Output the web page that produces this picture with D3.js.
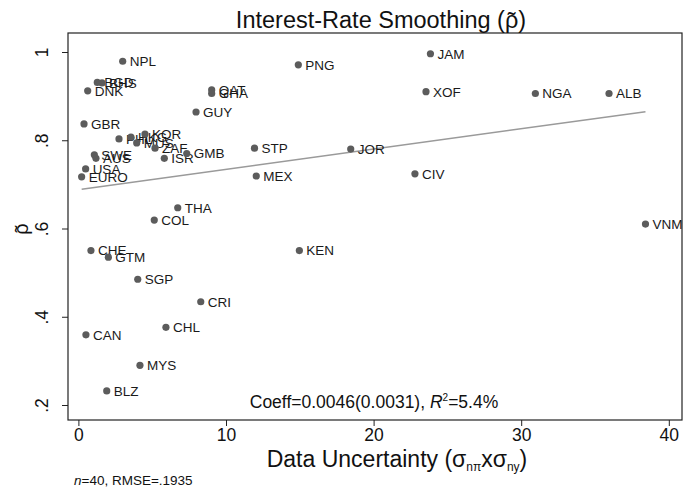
<!DOCTYPE html>
<html>
<head>
<meta charset="utf-8">
<script src="https://cdn.jsdelivr.net/npm/d3@7"></script>
<style>
  body { margin: 0; background: #fff; }
  svg { font-family: "Liberation Sans", Arial, sans-serif; }
</style>
</head>
<body>
<div id="chart"></div>
<script>
// country codes, data uncertainty (x) and smoothing rho (y)
var countries = ["NPL","BGD","BHS","DNK","QAT","GHA","GUY","GBR","PHL","HKG","KOR","MUS","ZAF","ISR","GMB",
                 "SWE","AUS","USA","EURO","PNG","JAM","XOF","NGA","ALB","STP","JOR","MEX","CIV","THA","COL",
                 "VNM","CHE","GTM","KEN","SGP","CRI","CHL","CAN","MYS","BLZ"];
var uncertainty = [3.00,1.28,1.60,0.63,9.03,9.03,7.97,0.38,2.75,3.56,4.51,3.95,5.19,5.82,7.34,
                   1.08,1.19,0.49,0.22,14.9,23.85,23.55,30.96,35.95,11.93,18.45,12.05,22.8,6.73,5.14,
                   38.42,0.85,2.03,14.97,4.02,8.29,5.93,0.51,4.17,1.92];
var rho = [0.979,0.931,0.930,0.912,0.914,0.906,0.864,0.837,0.803,0.807,0.814,0.794,0.782,0.759,0.770,
           0.767,0.759,0.735,0.717,0.971,0.996,0.910,0.906,0.906,0.782,0.780,0.719,0.724,0.647,0.619,
           0.610,0.550,0.535,0.550,0.485,0.434,0.376,0.359,0.290,0.232];

var xTicks = [0, 10, 20, 30, 40];
var yTicks = [0.2, 0.4, 0.6, 0.8, 1];
var fitIntercept = 0.688, fitSlope = 0.0046;

var W = 683, H = 493;
var plot = {left: 68, right: 682, top: 33, bottom: 420};

var svg = d3.select("#chart").append("svg")
    .attr("width", W).attr("height", H);

var x = d3.scaleLinear().domain([0, 40]).range([78.4, 78.4 + 40 * 14.76]);
var y = d3.scaleLinear().domain([0.2, 1]).range([405, 52]);

// puts a small tilde over one character of a text element
function tildeOver(parent, textEl, idx, size) {
  var n = textEl.node();
  var s = n.getStartPositionOfChar(idx), e = n.getEndPositionOfChar(idx);
  parent.append("text")
    .attr("x", (s.x + e.x) / 2).attr("y", s.y + size * 0.05)
    .attr("text-anchor", "middle")
    .attr("font-size", size).attr("fill", "#111")
    .text("\u02DC");
}

// plot frame
svg.append("rect")
    .attr("x", plot.left).attr("y", plot.top)
    .attr("width", plot.right - plot.left).attr("height", plot.bottom - plot.top)
    .attr("fill", "none").attr("stroke", "#222").attr("stroke-width", 1.2);

// title
var titleStr = "Interest-Rate Smoothing (\u03C1)";
var title = svg.append("text")
    .attr("x", 381).attr("y", 28)
    .attr("text-anchor", "middle")
    .attr("font-size", 23.5).attr("fill", "#111")
    .text(titleStr);
tildeOver(svg, title, titleStr.indexOf("\u03C1"), 23.5);

// x axis
var xAxis = svg.append("g")
    .attr("transform", "translate(0," + plot.bottom + ")")
    .call(d3.axisBottom(x).tickValues(xTicks).tickSize(6).tickPadding(3).tickFormat(d3.format("d")));
xAxis.select(".domain").remove();
xAxis.selectAll("line").attr("stroke", "#222");
xAxis.selectAll("text").attr("font-size", 17.5).attr("font-family", "Liberation Sans, Arial, sans-serif").attr("fill", "#111");

// y axis with rotated labels
var yAxis = svg.append("g")
    .attr("transform", "translate(" + plot.left + ",0)")
    .call(d3.axisLeft(y).tickValues(yTicks).tickSize(6)
      .tickFormat(function(d) { return d === 1 ? "1" : d3.format(".1f")(d).replace(/^0/, ""); }));
yAxis.select(".domain").remove();
yAxis.selectAll("line").attr("stroke", "#222");
yAxis.selectAll("text")
    .attr("font-size", 17.5).attr("font-family", "Liberation Sans, Arial, sans-serif").attr("fill", "#111")
    .attr("x", null).attr("dy", null)
    .attr("text-anchor", "middle")
    .attr("transform", "translate(-20,0) rotate(-90)");

// axis titles
var xt = svg.append("text")
    .attr("x", 397).attr("y", 467)
    .attr("text-anchor", "middle")
    .attr("font-size", 23).attr("fill", "#111");
xt.append("tspan").text("Data Uncertainty (\u03C3");
xt.append("tspan").attr("font-size", 12).attr("dy", 4).text("n\u03C0");
xt.append("tspan").attr("dy", -4).text("x\u03C3");
xt.append("tspan").attr("font-size", 12).attr("dy", 4).text("ny");
xt.append("tspan").attr("dy", -4).text(")");

var yTitleG = svg.append("g").attr("transform", "translate(28,229) rotate(-90)");
var yTitle = yTitleG.append("text")
    .attr("text-anchor", "middle")
    .attr("font-size", 20).attr("fill", "#111")
    .text("\u03C1");
tildeOver(yTitleG, yTitle, 0, 20);

// fit line over the data range
var xr = d3.extent(uncertainty);
svg.append("line")
    .attr("x1", x(xr[0])).attr("y1", y(fitIntercept + fitSlope * xr[0]))
    .attr("x2", x(xr[1])).attr("y2", y(fitIntercept + fitSlope * xr[1]))
    .attr("stroke", "#9a9a9a").attr("stroke-width", 1.5);

var data = countries.map(function(c, i) { return {name: c, u: uncertainty[i], r: rho[i]}; });

var pts = svg.append("g").selectAll("g")
    .data(data).enter().append("g");
pts.append("circle")
    .attr("cx", function(d) { return x(d.u); })
    .attr("cy", function(d) { return y(d.r); })
    .attr("r", 3.6)
    .attr("fill", "#5c5c5c");
pts.append("text")
    .attr("x", function(d) { return x(d.u) + 7; })
    .attr("y", function(d) { return y(d.r); })
    .attr("dy", "0.36em")
    .attr("font-size", 13.5).attr("fill", "#1a1a1a")
    .text(function(d) { return d.name; });

// regression note inside the plot
var note = svg.append("text")
    .attr("x", 374).attr("y", 408)
    .attr("text-anchor", "middle")
    .attr("font-size", 17.5).attr("fill", "#111");
note.append("tspan").text("Coeff=0.0046(0.0031), ");
note.append("tspan").attr("font-style", "italic").text("R");
note.append("tspan").attr("font-size", 10).attr("dy", -7).text("2");
note.append("tspan").attr("dy", 7).text("=5.4%");

// footnote
var foot = svg.append("text")
    .attr("x", 74).attr("y", 485)
    .attr("font-size", 13.5).attr("fill", "#111");
foot.append("tspan").attr("font-style", "italic").text("n");
foot.append("tspan").text("=40, RMSE=.1935");
</script>
</body>
</html>
